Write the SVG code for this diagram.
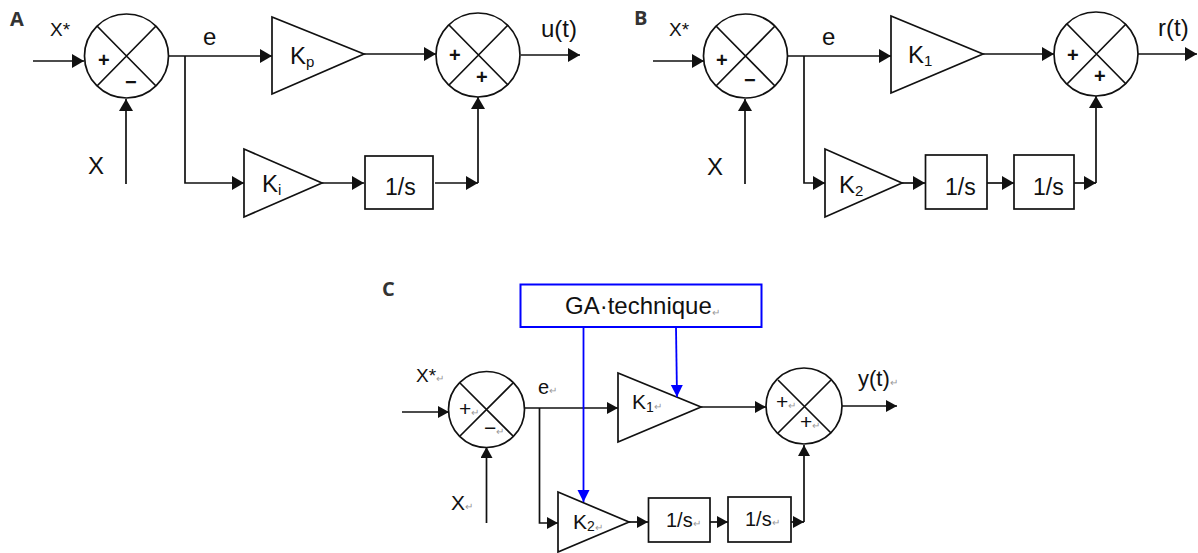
<svg xmlns="http://www.w3.org/2000/svg" width="1198" height="553" viewBox="0 0 1198 553">
<style>
text{font-family:"Liberation Sans",Arial,sans-serif;fill:#111}
.n{fill:#fff;stroke:#111;stroke-width:1.7}
.x{fill:none;stroke:#111;stroke-width:1.7}
.c{fill:none;stroke:#111;stroke-width:1.7}
.a{marker-end:url(#ah)}
.as{marker-end:url(#as)}
.b{fill:none;stroke:#0000ff;stroke-width:1.8;marker-end:url(#bh)}
.bb{fill:#fff;stroke:#0000ff;stroke-width:2}
.pl{font-family:"Open Sans","Noto Sans",sans-serif;font-weight:700;font-size:20px;fill:#333}
.k{font-size:24px}.lab{font-size:24px}.one{font-size:23px}.small{font-size:19px}.ck{font-size:21px}.cp{font-size:21px}
.s{font-weight:700;font-size:20px}
.r{font-size:10px;fill:#999}
</style>
<defs>
<marker id="ah" markerUnits="userSpaceOnUse" markerWidth="13" markerHeight="16" refX="12" refY="7" orient="auto"><path d="M0 0L12 7L0 14Z" fill="#111"/></marker>
<marker id="as" markerUnits="userSpaceOnUse" markerWidth="13" markerHeight="14" refX="11" refY="6" orient="auto"><path d="M0 0L11 6L0 12Z" fill="#111"/></marker>
<marker id="bh" markerUnits="userSpaceOnUse" markerWidth="13" markerHeight="14" refX="12" refY="6" orient="auto"><path d="M0 0L12 6L0 12Z" fill="#0000ff"/></marker>
</defs>

<g id="connectors">
<path class="c a" d="M33 61H84"/>
<path class="c a" d="M169 56H272"/>
<path class="c a" d="M185 56V183H244"/>
<path class="c a" d="M126 184V99"/>
<path class="c a" d="M364 54H436"/>
<path class="c a" d="M521 55H580"/>
<path class="c a" d="M322 183H364"/>
<path class="c a" d="M435 183H478"/>
<path class="c a" d="M478 183V97"/>

<path class="c a" d="M653 61H704"/>
<path class="c a" d="M788 56H891"/>
<path class="c a" d="M804 56V183H825"/>
<path class="c a" d="M745 184V99"/>
<path class="c a" d="M983 54H1054"/>
<path class="c a" d="M1138 54H1197"/>
<path class="c a" d="M902 183H925"/>
<path class="c a" d="M987 183H1014"/>
<path class="c a" d="M1074 183H1096"/>
<path class="c a" d="M1096 183V96"/>

<path class="c as" d="M402 412H449"/>
<path class="c as" d="M525 408H618"/>
<path class="c as" d="M539.500 408V523H558"/>
<path class="c as" d="M486.500 523V447"/>
<path class="c as" d="M701 407H766"/>
<path class="c as" d="M842 406H897"/>
<path class="c as" d="M629 522H648"/>
<path class="c as" d="M710 522H728"/>
<path class="c as" d="M791 522H804"/>
<path class="c as" d="M804 522V445"/>
</g>

<g id="a-sum1"><circle class="n" cx="126.500" cy="56" r="42"/><path class="x" d="M97 26L156 86M156 26L97 86"/><text class="s" x="98" y="67">+</text><text class="s" x="125" y="89">−</text></g>
<g id="a-kp"><path class="n" d="M272 17V94L364 54Z"/><text class="k" x="290" y="64">K<tspan font-size="15" dy="3">p</tspan></text></g>
<g id="a-sum2"><circle class="n" cx="478" cy="55" r="42"/><path class="x" d="M449 25L508 85M508 25L449 85"/><text class="s" x="449" y="62">+</text><text class="s" x="476" y="84">+</text></g>
<g id="a-ki"><path class="n" d="M244 149V217L322 183Z"/><text class="k" x="262" y="192">K<tspan font-size="15" dy="3">i</tspan></text></g>
<g id="a-int"><rect class="n" x="365" y="156" width="68" height="53"/><text class="one" x="385" y="195">1/s</text></g>
<g id="a-labels"><text class="pl" x="10" y="26">A</text><text class="small" x="50" y="36">X*</text><text class="lab" x="88" y="174">X</text><text class="lab" x="203" y="45">e</text><text class="lab" x="541" y="37">u(t)</text></g>

<g id="b-sum1"><circle class="n" cx="745.500" cy="56" r="42"/><path class="x" d="M716 26L775 86M775 26L716 86"/><text class="s" x="716" y="67">+</text><text class="s" x="744" y="87">−</text></g>
<g id="b-k1"><path class="n" d="M891 16V93L983 54Z"/><text class="k" x="908" y="63">K<tspan font-size="15" dy="3">1</tspan></text></g>
<g id="b-sum2"><circle class="n" cx="1096" cy="54" r="42"/><path class="x" d="M1067 24L1126 84M1126 24L1067 84"/><text class="s" x="1067" y="62">+</text><text class="s" x="1094" y="83">+</text></g>
<g id="b-k2"><path class="n" d="M825 149V217L902 183Z"/><text class="k" x="839" y="193">K<tspan font-size="15" dy="3">2</tspan></text></g>
<g id="b-int1"><rect class="n" x="925.500" y="155" width="61.500" height="54"/><text class="one" x="945" y="195">1/s</text></g>
<g id="b-int2"><rect class="n" x="1014" y="155" width="60" height="54"/><text class="one" x="1033" y="195">1/s</text></g>
<g id="b-labels"><text class="pl" x="634" y="25">B</text><text class="small" x="669" y="36">X*</text><text class="lab" x="707" y="175">X</text><text class="lab" x="822" y="45">e</text><text class="lab" x="1158" y="36">r(t)</text></g>

<g id="c-ga"><rect class="bb" x="520.500" y="284.500" width="241" height="42.500"/><text font-size="24" x="565" y="314">GA·technique<tspan class="r" dy="2">↵</tspan></text></g>
<g id="c-sum1"><circle class="n" cx="486.500" cy="409.500" r="38"/><path class="x" d="M460 383L513 436M513 383L460 436"/><text class="cp" x="459" y="416">+<tspan class="r">↵</tspan></text><text class="cp" x="484" y="435">−<tspan class="r">↵</tspan></text></g>
<g id="c-k1"><path class="n" d="M618 373V442L701 407Z"/><text class="ck" x="632" y="409">K<tspan font-size="14" dy="3">1</tspan><tspan class="r" dy="-2">↵</tspan></text></g>
<g id="c-sum2"><circle class="n" cx="804" cy="406" r="38"/><path class="x" d="M778 380L831 433M831 380L778 433"/><text class="cp" x="776" y="409">+<tspan class="r">↵</tspan></text><text class="cp" x="800" y="429">+<tspan class="r">↵</tspan></text></g>
<g id="c-k2"><path class="n" d="M558 492V552L629 522Z"/><text class="ck" x="573" y="529">K<tspan font-size="14" dy="2">2</tspan><tspan class="r">↵</tspan></text></g>
<g id="c-int1"><rect class="n" x="648.500" y="498" width="61.500" height="44"/><text font-size="20" x="666" y="527">1/s<tspan class="r">↵</tspan></text></g>
<g id="c-int2"><rect class="n" x="728" y="497" width="63" height="45"/><text font-size="20" x="745" y="526">1/s<tspan class="r">↵</tspan></text></g>
<g id="c-labels"><text class="pl" x="382" y="296">C</text><text class="small" x="416" y="382">X*<tspan class="r">↵</tspan></text><text font-size="21" x="451" y="510">X<tspan class="r">↵</tspan></text><text font-size="20" x="538" y="394">e<tspan class="r">↵</tspan></text><text font-size="22" x="858" y="386">y(t)<tspan class="r">↵</tspan></text></g>

<g id="blue-connectors">
<path class="b" d="M583.500 327V502"/>
<path class="b" d="M676 327L677 397"/>
</g>
</svg>
